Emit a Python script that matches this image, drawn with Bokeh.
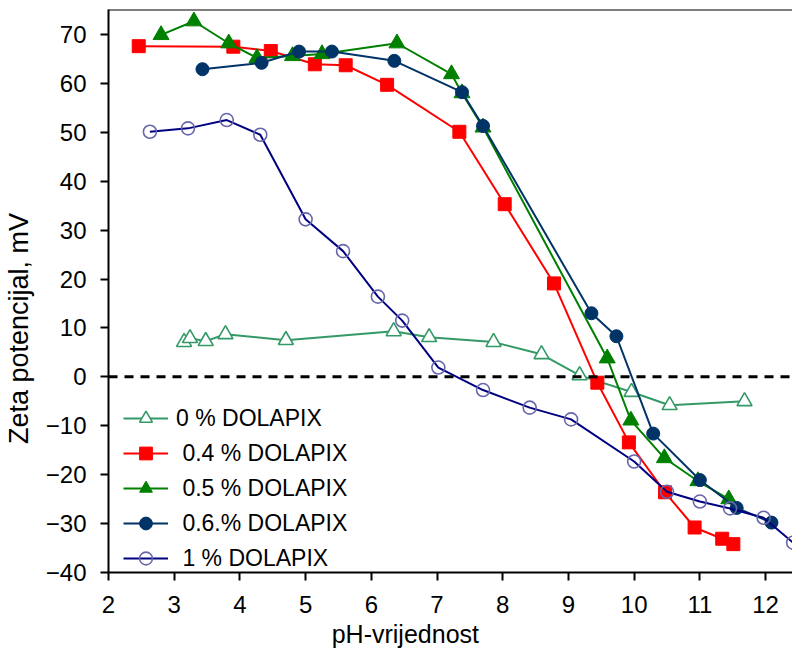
from bokeh.plotting import figure
from bokeh.models import Range1d, Span, Legend, LegendItem, FixedTicker
from bokeh.embed import file_html
from bokeh.resources import INLINE

# ---- data ----
ph_0 = [3.15, 3.24, 3.48, 3.78, 4.70, 6.34, 6.88, 7.86, 8.59, 9.17, 9.96, 10.54, 11.68]
zeta_0 = [7.1, 7.9, 7.3, 8.7, 7.5, 9.3, 8.1, 7.1, 4.6, 0.3, -3.1, -5.8, -5.0]

ph_04 = [2.46, 3.90, 4.47, 5.14, 5.61, 6.24, 7.34, 8.03, 8.78, 9.44, 9.92, 10.47, 10.92, 11.34, 11.51]
zeta_04 = [67.6, 67.5, 66.6, 63.9, 63.7, 59.7, 50.1, 35.3, 19.1, -1.2, -13.4, -23.6, -30.8, -33.1, -34.2]

ph_05 = [2.80, 3.30, 3.83, 4.26, 4.80, 5.25, 6.39, 7.22, 7.38, 7.70, 9.59, 9.95, 10.46, 10.97, 11.44]
zeta_05 = [69.9, 72.7, 68.2, 65.2, 65.6, 66.0, 68.2, 61.9, 58.0, 51.0, 3.8, -8.9, -16.6, -21.3, -25.0]

ph_06 = [3.43, 4.33, 4.90, 5.40, 6.35, 7.38, 7.70, 9.35, 9.73, 10.29, 11.00, 11.56, 12.09]
zeta_06 = [62.9, 64.2, 66.5, 66.5, 64.6, 58.2, 51.3, 13.0, 8.3, -11.6, -21.1, -26.8, -29.8]

ph_1 = [2.63, 3.21, 3.80, 4.31, 5.00, 5.57, 6.10, 6.47, 7.02, 7.70, 8.41, 9.04, 10.00, 10.50, 11.00, 11.46, 11.97, 12.42]
zeta_1 = [50.1, 50.8, 52.5, 49.5, 32.2, 25.7, 16.4, 11.5, 1.9, -2.7, -6.3, -8.7, -17.3, -23.5, -25.5, -26.9, -28.8, -33.9]

labels = ["0 % DOLAPIX", " 0.4 % DOLAPIX", " 0.5 % DOLAPIX", " 0.6.% DOLAPIX", " 1 % DOLAPIX"]
x_ticks = list(range(2, 13))
y_ticks = list(range(-40, 80, 10))
x_title = "pH-vrijednost"
y_title = "Zeta potencijal, mV"
y_top = 75.1

FONT = "Liberation Sans"
NBSP = "\u00a0"

p = figure(width=792, height=659, output_backend="svg", toolbar_location=None,
           x_range=Range1d(2, 12.41), y_range=Range1d(-40, y_top),
           min_border_left=108, min_border_right=0, min_border_top=9, min_border_bottom=87)

p.xgrid.visible = False
p.ygrid.visible = False
p.background_fill_color = "white"
p.outline_line_color = None

for ax in (p.xaxis[0], p.yaxis[0]):
    ax.axis_line_width = 2
    ax.axis_line_color = "black"
    ax.major_tick_line_width = 2
    ax.major_tick_out = 8
    ax.major_tick_in = 0
    ax.minor_tick_line_color = None
    ax.major_label_text_font = FONT
    ax.major_label_text_font_size = "24px"
    ax.major_label_text_color = "black"
    ax.axis_label_text_font = FONT
    ax.axis_label_text_font_style = "normal"
    ax.axis_label_text_color = "black"

p.xaxis[0].ticker = FixedTicker(ticks=x_ticks)
p.yaxis[0].ticker = FixedTicker(ticks=y_ticks)
# trailing no-break spaces shift the visible titles off the frame centre, as in the reference
p.xaxis[0].axis_label = x_title + NBSP * 13
p.yaxis[0].axis_label = y_title + NBSP * 10
p.xaxis[0].axis_label_text_font_size = "25px"
p.yaxis[0].axis_label_text_font_size = "27px"
p.xaxis[0].major_label_standoff = 15
p.yaxis[0].major_label_standoff = 14
p.xaxis[0].axis_label_standoff = 4
p.yaxis[0].axis_label_standoff = 9

# top border of the plot area (the right side is cut off in the reference)
p.add_layout(Span(location=y_top, dimension="width", line_color="black", line_width=2))

zero = Span(location=0, dimension="width", line_color="black", line_width=3, line_dash="9 7")
p.add_layout(zero)

items = []

# 0 %
l0 = p.line(ph_0, zeta_0, line_color="#339966", line_width=2)
s0 = p.scatter(ph_0, zeta_0, marker="triangle", size=15, fill_color="white",
               line_color="#339966", line_width=1.6)
items.append(LegendItem(label=labels[0], renderers=[l0, s0]))

# 0.4 %
l1 = p.line(ph_04, zeta_04, line_color="#FF0000", line_width=2)
s1 = p.scatter(ph_04, zeta_04, marker="square", size=13, fill_color="#FF0000",
               line_color="#FF0000", line_width=1)
items.append(LegendItem(label=labels[1], renderers=[l1, s1]))

# 0.5 %
l2 = p.line(ph_05, zeta_05, line_color="#008000", line_width=2)
s2 = p.scatter(ph_05, zeta_05, marker="triangle", size=16, fill_color="#008000",
               line_color="#008000", line_width=1)
items.append(LegendItem(label=labels[2], renderers=[l2, s2]))

# 0.6 %
l3 = p.line(ph_06, zeta_06, line_color="#003366", line_width=2)
s3 = p.scatter(ph_06, zeta_06, marker="circle", size=13, fill_color="#003366",
               line_color="#003366", line_width=1)
items.append(LegendItem(label=labels[3], renderers=[l3, s3]))

# 1 %
l4 = p.line(ph_1, zeta_1, line_color="#000080", line_width=2)
s4 = p.scatter(ph_1, zeta_1, marker="circle", size=13, fill_color="white", fill_alpha=0,
               line_color="#6666AA", line_width=1.6)
items.append(LegendItem(label=labels[4], renderers=[l4, s4]))

legend = Legend(items=items, location=(15, -2), border_line_color=None,
                background_fill_alpha=0, padding=0, margin=0, spacing=3,
                glyph_width=45, glyph_height=32, label_height=32, label_standoff=8,
                label_text_font=FONT, label_text_font_size="23px", label_text_color="black")
p.add_layout(legend)

open("out.html", "w").write(file_html(p, INLINE))
